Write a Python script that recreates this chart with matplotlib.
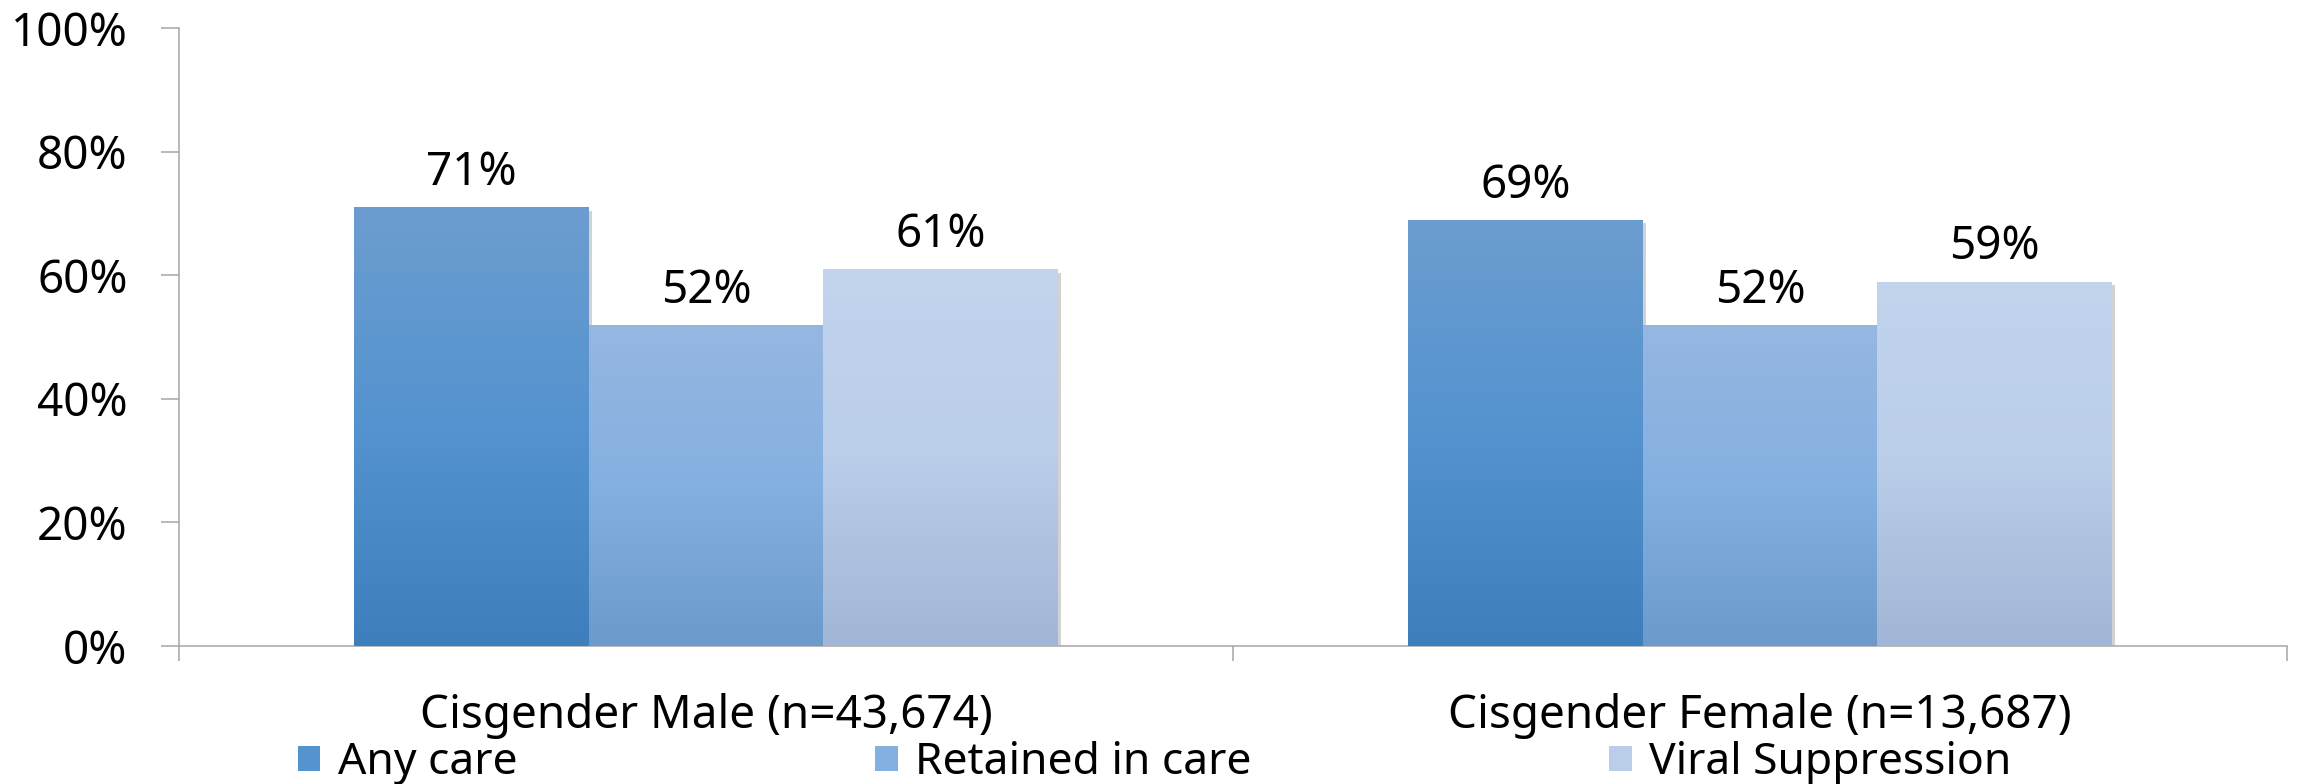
import numpy as np
import matplotlib
matplotlib.use('Agg')
import matplotlib.pyplot as plt
import matplotlib.patheffects as pe
from matplotlib.colors import LinearSegmentedColormap
from matplotlib.patches import Patch

categories = ['Cisgender Male (n=43,674)', 'Cisgender Female (n=13,687)']
series = ['Any care', 'Retained in care', 'Viral Suppression']
any_care = [71, 69]
retained_in_care = [52, 52]
viral_suppression = [61, 59]
values = [any_care, retained_in_care, viral_suppression]
yticks = [0, 20, 40, 60, 80, 100]

# fill colours for each series, top -> middle -> bottom of the bar
gradients = [
    ['#6c9dcf', '#5493d0', '#3d7ebc'],
    ['#96b7e0', '#84b0e0', '#6b9acb'],
    ['#c3d5ed', '#bacde9', '#a1b6d6'],
]
axis_grey = '#a6a6a6'
fs = 33

plt.rcParams['font.family'] = ['Noto Sans', 'DejaVu Sans']

fig = plt.figure(figsize=(23.03, 7.84), dpi=100)
ax = fig.add_axes([0.0777, 0.176, 0.9154, 0.788])

x = np.arange(len(categories))
width = 0.2226
grad = np.linspace(0, 1, 256).reshape(-1, 1)
shadow = [pe.SimplePatchShadow(offset=(2.5, -2.5), shadow_rgbFace='#7f7f7f', alpha=0.35), pe.Normal()]

for i, (name, vals, stops) in enumerate(zip(series, values, gradients)):
    bars = ax.bar(x + (i - 1) * width, vals, width, color=stops[1], label=name,
                  zorder=2, path_effects=shadow)
    cmap = LinearSegmentedColormap.from_list(name, stops[::-1])
    for bar, v in zip(bars, vals):
        x0, w = bar.get_x(), bar.get_width()
        im = ax.imshow(grad, cmap=cmap, origin='lower', aspect='auto',
                       extent=[x0, x0 + w, 0, v], zorder=3)
        im.set_clip_path(bar)
        ax.annotate(f'{v}%', (x0 + w / 2, v), xytext=(0, 8), textcoords='offset points',
                    ha='center', va='bottom', fontsize=fs, zorder=4)

ax.set_xlim(-0.5, len(categories) - 0.5)
ax.set_ylim(0, 100)
ax.set_yticks(yticks)
ax.set_yticklabels([f'{t}%' for t in yticks])

# tick marks sit on the category boundaries, labels in the middle
ax.set_xticks(np.arange(len(categories) + 1) - 0.5)
ax.set_xticklabels([])
ax.set_xticks(x, minor=True)
ax.set_xticklabels(categories, minor=True)

ax.tick_params(axis='y', length=13, width=1.1, color=axis_grey, labelsize=fs, pad=24)
ax.tick_params(axis='x', which='major', length=11, width=1.1, color=axis_grey)
ax.tick_params(axis='x', which='minor', length=0, labelsize=fs, pad=34)

for side in ['top', 'right']:
    ax.spines[side].set_visible(False)
for side in ['left', 'bottom']:
    ax.spines[side].set_color(axis_grey)
    ax.spines[side].set_linewidth(1.1)

handles = [Patch(facecolor=g[1], edgecolor='none', label=s) for s, g in zip(series, gradients)]
fig.legend(handles=handles, loc='center left', bbox_to_anchor=(298 / 2303, 21 / 784),
           ncol=3, frameon=False, fontsize=32, handlelength=0.5, handleheight=0.5,
           handletextpad=0.4, columnspacing=8.05, borderpad=0, borderaxespad=0)

fig.savefig('out.png', dpi=100)
